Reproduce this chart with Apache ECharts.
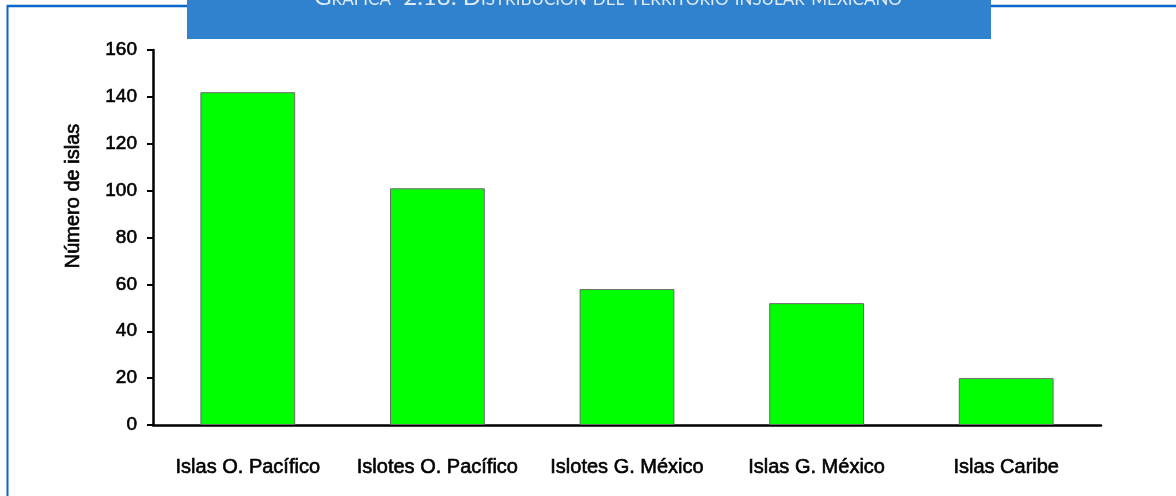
<!DOCTYPE html>
<html>
<head>
<meta charset="utf-8">
<script src="https://cdn.jsdelivr.net/npm/echarts@6/dist/echarts.min.js"></script>
<style>
html,body{margin:0;padding:0;background:#fff;}
#chart{width:1176px;height:496px;}
</style>
</head>
<body>
<div id="chart"></div>
<script>
const categories = ['Islas O. Pacífico', 'Islotes O. Pacífico', 'Islotes G. México', 'Islas G. México', 'Islas Caribe'];
const islandCounts = [142, 101, 58, 52, 20];
const yTicks = [0, 20, 40, 60, 80, 100, 120, 140, 160];
const titleText = 'Gráfica  2.18: Distribución del territorio insular mexicano';
const yAxisName = 'Número de islas';

const chart = echarts.init(document.getElementById('chart'), null, {renderer: 'canvas'});
const labelFont = {color: '#000', fontFamily: 'Liberation Sans', textBorderColor: '#000', textBorderWidth: 0.6};
chart.setOption({
  animation: false,
  backgroundColor: '#ffffff',
  grid: {left: 153, right: 75, top: 50, bottom: 71, containLabel: false},
  xAxis: {
    type: 'category',
    data: categories,
    axisLine: {show: true, lineStyle: {color: '#000', width: 2.5}},
    axisTick: {show: false},
    axisLabel: Object.assign({fontSize: 20, margin: 32, interval: 0}, labelFont)
  },
  yAxis: {
    type: 'value',
    min: yTicks[0],
    max: yTicks[yTicks.length - 1],
    interval: yTicks[1] - yTicks[0],
    splitLine: {show: false},
    axisLine: {show: true, lineStyle: {color: '#000', width: 2.5}},
    axisTick: {show: true, length: 6, lineStyle: {color: '#000', width: 2}},
    axisLabel: Object.assign({fontSize: 19, margin: 16}, labelFont)
  },
  series: [{
    type: 'bar',
    data: islandCounts,
    barWidth: '50%',
    itemStyle: {color: '#00ff00', borderColor: '#6a6a6a', borderWidth: 1}
  }],
  graphic: [
    {type: 'line', shape: {x1: 7, y1: 6, x2: 1176, y2: 6}, style: {stroke: '#0b66cc', lineWidth: 2.5}, z: 10},
    {type: 'line', shape: {x1: 7.5, y1: 5, x2: 7.5, y2: 496}, style: {stroke: '#0b66cc', lineWidth: 2}, z: 10},
    {type: 'rect', shape: {x: 187, y: 0, width: 804, height: 39}, style: {fill: '#3182ce'}, z: 11},
    {type: 'text', x: 608, y: 9, z: 12,
      style: {text: titleText, fill: '#dfeaf7', fontFamily: 'Lato', fontStyle: 'small-caps', fontSize: 24,
        align: 'center', verticalAlign: 'bottom'}},
    {type: 'text', x: 73, y: 196, rotation: Math.PI / 2, z: 12,
      style: {text: yAxisName, fill: '#000', fontFamily: 'Liberation Sans', fontSize: 20,
        stroke: '#000', lineWidth: 0.6, align: 'center', verticalAlign: 'middle'}}
  ]
});
</script>
</body>
</html>
